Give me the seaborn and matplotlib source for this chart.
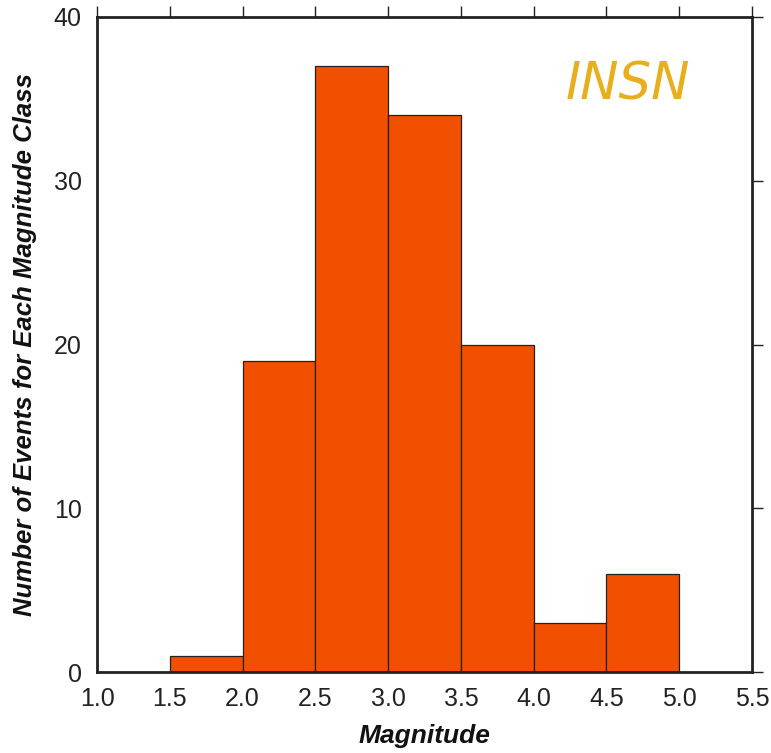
import matplotlib
matplotlib.use("Agg")
import matplotlib.pyplot as plt
import seaborn as sns
import numpy as np

# Magnitude classes (bin edges) and number of events in each class
bin_edges = [1.5, 2.0, 2.5, 3.0, 3.5, 4.0, 4.5, 5.0]
counts = [1, 19, 37, 34, 20, 3, 6]
x_ticks = [1.0, 1.5, 2.0, 2.5, 3.0, 3.5, 4.0, 4.5, 5.0, 5.5]
y_ticks = [0, 10, 20, 30, 40]
network = "INSN"

sns.set_theme(style="white")
plt.rcParams["font.family"] = ["Liberation Sans", "DejaVu Sans"]

fig = plt.figure(figsize=(7.71, 7.53), dpi=100)
ax = fig.add_axes([97 / 771, 1 - 672 / 753, (752 - 97) / 771, (672 - 17) / 753])

centers = [(a + b) / 2 for a, b in zip(bin_edges[:-1], bin_edges[1:])]
sns.histplot(x=centers, weights=counts, bins=bin_edges, ax=ax,
             color="#F05000", edgecolor="#222222", linewidth=0.9, alpha=1.0)

ax.set_xlim(1.0, 5.5)
ax.set_ylim(0, 40)
ax.set_xticks(x_ticks)
ax.set_xticklabels([f"{v:.1f}" for v in x_ticks])
ax.set_yticks(y_ticks)

for s in ax.spines.values():
    s.set_visible(True)
    s.set_color("#222222")
    s.set_linewidth(2.0)

ax.tick_params(axis="both", which="major", direction="out", length=8, width=1.0,
               color="#222222", labelsize=18, labelcolor="#222222",
               top=True, right=True, labeltop=False, labelright=False, pad=3)

ax.set_xlabel("Magnitude", fontsize=19, fontweight="bold", fontstyle="italic",
              color="#111111", labelpad=9)
ax.set_ylabel("Number of Events for Each Magnitude Class", fontsize=18.5,
              fontweight="bold", fontstyle="italic", color="#111111", labelpad=12)

ax.text(0.81, 0.896, network, transform=ax.transAxes, ha="center", va="center",
        fontsize=37, fontstyle="italic", color="#E8AE1C", family="DejaVu Sans")

fig.savefig("out.png", dpi=100)
